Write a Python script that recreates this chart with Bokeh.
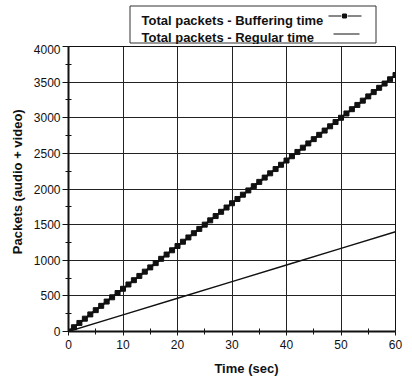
from bokeh.plotting import figure
from bokeh.layouts import column
from bokeh.models import Range1d, FixedTicker
from bokeh.core.properties import value
from bokeh.embed import file_html
from bokeh.resources import INLINE

# ---------------- data ----------------
buf_time = [0, 1, 2, 3, 4, 5, 6, 7, 8, 9, 10, 11, 12, 13, 14, 15, 16, 17, 18, 19, 20,
            21, 22, 23, 24, 25, 26, 27, 28, 29, 30, 31, 32, 33, 34, 35, 36, 37, 38, 39, 40,
            41, 42, 43, 44, 45, 46, 47, 48, 49, 50, 51, 52, 53, 54, 55, 56, 57, 58, 59, 60]
buf_packets = [0, 60, 120, 180, 240, 300, 360, 420, 480, 540, 600, 660, 720, 780, 840, 900,
               960, 1020, 1080, 1140, 1200, 1260, 1320, 1380, 1440, 1500, 1560, 1620, 1680,
               1740, 1800, 1860, 1920, 1980, 2040, 2100, 2160, 2220, 2280, 2340, 2400, 2460,
               2520, 2580, 2640, 2700, 2760, 2820, 2880, 2940, 3000, 3060, 3120, 3180, 3240,
               3300, 3360, 3420, 3480, 3540, 3600]
reg_time = [0, 10, 20, 30, 40, 50, 60]
reg_packets = [0, 233, 467, 700, 933, 1167, 1400]

x_ticks = [0, 10, 20, 30, 40, 50, 60]
x_minor = [5, 15, 25, 35, 45, 55]
y_ticks = [0, 500, 1000, 1500, 2000, 2500, 3000, 3500, 4000]
y_minor = [250, 750, 1250, 1750, 2250, 2750, 3250, 3750]
legend_labels = ["Total packets - Buffering time", "Total packets - Regular time"]
x_title = "Time (sec)"
y_title = "Packets (audio + video)"

FONT = "Liberation Sans"
INK = "#111111"
GRID = "#222222"
NB = "\u00a0"

# ---------------- legend strip (pixel coordinates, frame aligned with main frame) ----------------
leg = figure(width=410, height=44, output_backend="svg", toolbar_location=None,
             x_range=Range1d(68, 395), y_range=Range1d(44, 0),
             min_border_left=68, min_border_right=15, min_border_top=0, min_border_bottom=0,
             outline_line_color=None)
leg.axis.visible = False
leg.grid.visible = False
leg.quad(left=[129.5], right=[375.5], top=[5.5], bottom=[42.5],
         fill_color=None, line_color="#333333", line_width=1)
leg.text(x=[141, 141], y=[20, 37], text=legend_labels,
         text_font=value(FONT), text_font_style="bold", text_font_size="13px",
         text_color=INK, text_baseline="alphabetic", text_align="left")
leg.segment(x0=[328, 347], y0=[15.5, 15.5], x1=[341, 361], y1=[15.5, 15.5],
            line_color=INK, line_width=1.2)
leg.scatter(x=[344], y=[15.5], marker="square", size=4, color=INK)
leg.segment(x0=[333], y0=[33.5], x1=[359], y1=[33.5], line_color=INK, line_width=1.2)

# ---------------- main plot ----------------
p = figure(frame_width=327, frame_height=285, output_backend="svg", toolbar_location=None,
           x_range=Range1d(0, 60), y_range=Range1d(0, 4000),
           min_border_left=68, min_border_right=15, min_border_top=2, min_border_bottom=44,
           outline_line_color=INK, outline_line_width=1)

p.line(reg_time, reg_packets, line_color=INK, line_width=1.4)
p.line(buf_time, buf_packets, line_color=INK, line_width=2)
p.scatter(buf_time, buf_packets, marker="square", size=5, color=INK)

p.xaxis.ticker = FixedTicker(ticks=x_ticks, minor_ticks=x_minor)
p.yaxis.ticker = FixedTicker(ticks=y_ticks, minor_ticks=y_minor)
for ax in (p.xaxis, p.yaxis):
    ax.axis_line_width = 2
    ax.axis_line_color = INK
    ax.major_tick_line_color = INK
    ax.minor_tick_line_color = INK
    ax.major_tick_in = 0
    ax.major_tick_out = 6
    ax.minor_tick_in = 3
    ax.minor_tick_out = 3
    ax.major_label_text_font = FONT
    ax.major_label_text_font_size = "12px"
    ax.major_label_text_color = INK
    ax.axis_label_text_font = FONT
    ax.axis_label_text_font_style = "bold"
    ax.axis_label_text_font_size = "13px"
    ax.axis_label_text_color = INK
p.xaxis.major_tick_out = 4
p.xaxis.major_label_standoff = 4
p.yaxis.major_label_standoff = 2
p.xaxis.axis_label = NB * 8 + x_title
p.yaxis.axis_label = NB * 4 + y_title
p.xaxis.axis_label_standoff = 9
p.yaxis.axis_label_standoff = 6

p.xgrid.grid_line_color = GRID
p.ygrid.grid_line_color = GRID
p.grid.grid_line_width = 1
p.grid.grid_line_alpha = 1

layout = column(leg, p, spacing=0)
open("out.html", "w").write(file_html(layout, INLINE))
